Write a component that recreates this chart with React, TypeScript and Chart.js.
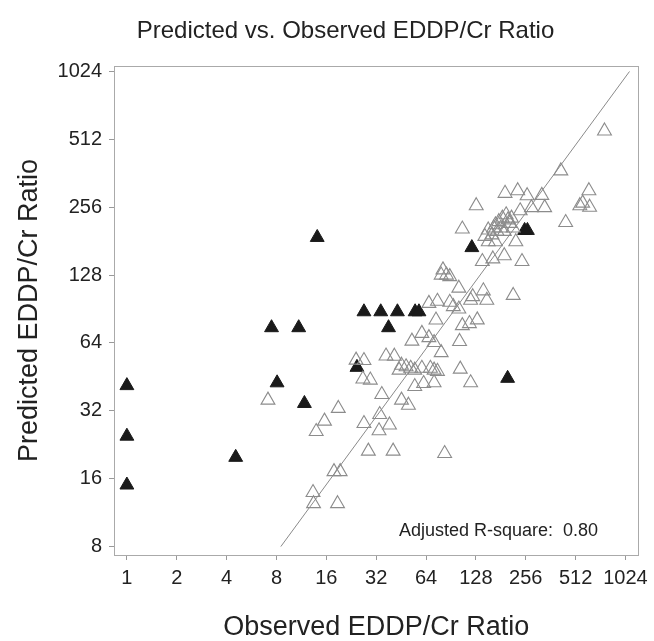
import React, { useEffect, useRef } from "react";
import { Chart, registerables } from "chart.js";

Chart.register(...registerables);

const xTicks = [1, 2, 4, 8, 16, 32, 64, 128, 256, 512, 1024];
const yTicks = [8, 16, 32, 64, 128, 256, 512, 1024];

const filledX = [1, 1, 1, 4.54, 7.47, 8.07, 10.9, 11.8, 14.1, 24.5, 27, 34.1, 43, 38, 55, 58, 121, 252, 262, 199];
const filledY = [41.4, 24.7, 15, 19.9, 74.8, 42.6, 74.8, 34.5, 188, 49.9, 88, 88, 88, 74.8, 88, 88, 169.5, 202, 202, 44.6];

const openX = [
  765, 417, 192, 229, 261, 320, 616, 128.6, 237, 277, 333, 543, 565, 622, 446, 106,
  152, 160, 168, 176, 185, 195, 200, 181, 190, 172, 164, 205, 210, 215, 152, 168, 223, 145,
  190, 243, 140, 162, 79, 85, 89, 81, 101, 122.5, 119, 142, 149, 215,
  66.6, 75, 89, 101, 93.5, 73.5, 106, 117, 130.5, 60.4, 66.6, 71.6, 52.6, 102, 79,
  24.2, 27, 36.7, 41.2, 44, 48.5, 51.7, 54.7, 60.4, 68, 71.6, 75, 45.5, 103,
  26.6, 29.5, 119, 71.6, 61.9, 54.7, 7.11, 34.6, 45.5, 50.1, 18.9, 15.6, 13.9,
  27, 33.6, 33.3, 38.5, 28.7, 40.5, 82.9, 17.8, 19.4, 13.3, 13.4, 18.7,
];
const openY = [
  558, 371, 295, 303, 288, 289, 303, 260, 247, 255, 255, 260, 267, 256, 219, 205,
  203, 193, 214, 221, 229, 237, 225, 207, 200, 200, 207, 217, 229, 207, 180, 180, 180, 190,
  156, 147, 147, 151, 128, 128, 126, 135, 112, 102.7, 99, 109, 99, 104,
  95.9, 98, 97, 90.5, 92.8, 80.9, 76.4, 78, 81, 70.6, 67.6, 64.3, 65.2, 65, 58,
  53.7, 53.5, 56, 55.9, 48.5, 50.2, 49.4, 48.5, 49.4, 49.4, 48.5, 47.9, 51, 49,
  44.3, 43.8, 42.6, 42.6, 42.3, 41, 35.7, 37.8, 35.7, 33.9, 32.8, 28.8, 25.9,
  28.1, 30.8, 26.1, 27.7, 21.2, 21.2, 20.7, 17.2, 17.2, 13.9, 12.4, 12.4,
];

const fitLineX = [8.5, 1083];
const fitLineY = [8, 1024];

const chartTitle = "Predicted vs. Observed EDDP/Cr Ratio";
const xTitle = "Observed EDDP/Cr Ratio";
const yTitle = "Predicted EDDP/Cr Ratio";
const annotation = "Adjusted R-square:  0.80";

const FONT = "'Liberation Sans', Arial, sans-serif";

export default function App() {
  const ref = useRef<HTMLCanvasElement | null>(null);

  useEffect(() => {
    if (!ref.current) return;
    const framePlugin = {
      id: "frameAndText",
      beforeDatasetsDraw(chart: any) {
        const { ctx, chartArea } = chart;
        ctx.save();
        ctx.strokeStyle = "#aaaaaa";
        ctx.lineWidth = 1;
        ctx.strokeRect(
          Math.round(chartArea.left) + 0.5,
          Math.round(chartArea.top) + 0.5,
          Math.round(chartArea.right - chartArea.left),
          Math.round(chartArea.bottom - chartArea.top)
        );
        ctx.restore();
      },
      afterDraw(chart: any) {
        const { ctx, chartArea } = chart;
        ctx.save();
        ctx.fillStyle = "#222222";
        ctx.textBaseline = "middle";
        ctx.textAlign = "center";
        ctx.font = `24px ${FONT}`;
        ctx.fillText(chartTitle, 345.5, 31);
        ctx.textAlign = "right";
        ctx.font = `18px ${FONT}`;
        ctx.fillText(annotation, 598, chartArea.bottom - 24);
        ctx.restore();
      },
    };

    const chart = new Chart(ref.current, {
      type: "scatter",
      data: {
        datasets: [
          {
            label: "fit",
            data: fitLineX.map((x, i) => ({ x, y: fitLineY[i] })),
            showLine: true,
            borderColor: "#8a8a8a",
            borderWidth: 1,
            pointRadius: 0,
            fill: false,
          } as any,
          {
            label: "open",
            data: openX.map((x, i) => ({ x, y: openY[i] })),
            pointStyle: "triangle",
            pointRadius: 8,
            pointBorderWidth: 1.1,
            borderColor: "#8c8c8c",
            backgroundColor: "rgba(255,255,255,0)",
          },
          {
            label: "filled",
            data: filledX.map((x, i) => ({ x, y: filledY[i] })),
            pointStyle: "triangle",
            pointRadius: 8,
            pointBorderWidth: 1,
            borderColor: "#1a1a1a",
            backgroundColor: "#1a1a1a",
          },
        ],
      },
      options: {
        animation: false,
        responsive: false,
        layout: { padding: { top: 66, right: 12, left: 0, bottom: 0 } },
        plugins: {
          legend: { display: false },
          tooltip: { enabled: false },
          title: { display: false },
        },
        scales: {
          x: {
            type: "logarithmic",
            min: 0.836,
            max: 1226,
            afterBuildTicks: (scale: any) => {
              scale.ticks = xTicks.map((v) => ({ value: v }));
            },
            afterFit: (scale: any) => {
              scale.height = 86;
            },
            border: { display: false },
            grid: { display: true, drawOnChartArea: false, drawTicks: true, tickLength: 5, color: "#999999" },
            ticks: {
              autoSkip: false,
              maxRotation: 0,
              padding: 6,
              color: "#222222",
              font: { family: FONT, size: 20 },
              callback: (v: any) => String(v),
            },
            title: {
              display: true,
              text: xTitle,
              color: "#222222",
              font: { family: FONT, size: 27, lineHeight: 1 },
              padding: { top: 0, bottom: 0 },
            },
          },
          y: {
            type: "logarithmic",
            min: 7.34,
            max: 1083,
            afterBuildTicks: (scale: any) => {
              scale.ticks = yTicks.map((v) => ({ value: v }));
            },
            afterFit: (scale: any) => {
              scale.width = 114;
            },
            border: { display: false },
            grid: { display: true, drawOnChartArea: false, drawTicks: true, tickLength: 5, color: "#999999" },
            ticks: {
              autoSkip: false,
              padding: 7,
              color: "#222222",
              font: { family: FONT, size: 20 },
              callback: (v: any) => String(v),
            },
            title: {
              display: true,
              text: yTitle,
              color: "#222222",
              font: { family: FONT, size: 27, lineHeight: 1 },
              padding: { top: 16, bottom: 0 },
            },
          },
        },
      },
      plugins: [framePlugin],
    });
    return () => chart.destroy();
  }, []);

  return (
    <div style={{ position: "fixed", left: 0, top: 0, width: 654, height: 641, background: "#fff" }}>
      <canvas ref={ref} width={654} height={641} style={{ width: 654, height: 641, display: "block" }} />
    </div>
  );
}
